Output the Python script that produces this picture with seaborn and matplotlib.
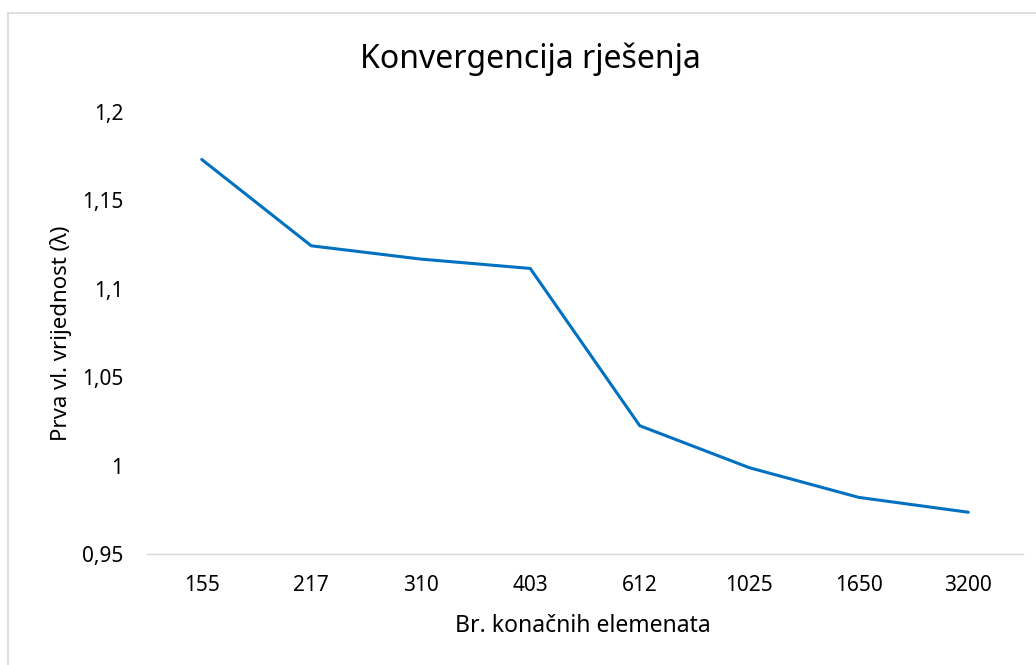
import matplotlib
matplotlib.use("Agg")
import matplotlib.pyplot as plt
from matplotlib.lines import Line2D
from matplotlib.ticker import FuncFormatter
import seaborn as sns
import pandas as pd

# Data
categories = ["155", "217", "310", "403", "612", "1025", "1650", "3200"]
values = [1.173, 1.1242, 1.1167, 1.1114, 1.0225, 0.9988, 0.982, 0.9736]
y_ticks = [0.95, 1.0, 1.05, 1.1, 1.15, 1.2]

title = "Konvergencija rješenja"
x_label = "Br. konačnih elemenata"
y_label = "Prva vl. vrijednost (λ)"

sns.set_theme(style="white")
plt.rcParams["font.family"] = ["Noto Sans", "DejaVu Sans"]

df = pd.DataFrame({"x": categories, "y": values})
df["pos"] = range(len(categories))

W, H = 1036, 665
fig = plt.figure(figsize=(W / 100, H / 100), dpi=100)
ax = fig.add_axes([147 / W, 1 - 554 / H, (1023 - 147) / W, (554 - 111.7) / H])

sns.lineplot(data=df, x="pos", y="y", ax=ax, color="#0070C0", linewidth=2.2)

ax.set_xlim(-0.5, len(categories) - 0.5)
ax.set_ylim(min(y_ticks), max(y_ticks))
ax.set_xticks(range(len(categories)))
ax.set_xticklabels(categories)
ax.set_yticks(y_ticks)
ax.yaxis.set_major_formatter(FuncFormatter(lambda v, p: f"{v:g}".replace(".", ",")))

for s in ["top", "right", "left"]:
    ax.spines[s].set_visible(False)
ax.spines["bottom"].set_color("#D9D9D9")
ax.spines["bottom"].set_linewidth(1.0)
ax.tick_params(axis="both", length=0, labelsize=15, colors="#000000")
ax.tick_params(axis="y", pad=17)
ax.tick_params(axis="x", pad=15)
ax.grid(False)
for l in ax.get_lines():
    l.set_clip_on(False)

ax.set_xlabel("")
ax.set_ylabel("")
fig.text(583 / W, 1 - 632 / H, x_label, ha="center", va="baseline", fontsize=16.5, color="#000000")
fig.text(61 / W, 1 - 333 / H, y_label, ha="center", va="center", rotation=90, fontsize=16, color="#000000")
fig.text(530 / W, 1 - 68 / H, title, ha="center", va="baseline", fontsize=23, color="#000000")

# chart border
fig.add_artist(Line2D([7.5 / W, 7.5 / W], [0, 1 - 12.5 / H], transform=fig.transFigure, color="#D9D9D9", lw=1.2))
fig.add_artist(Line2D([7.5 / W, 1], [1 - 12.5 / H, 1 - 12.5 / H], transform=fig.transFigure, color="#D9D9D9", lw=1.2))

fig.savefig("out.png", dpi=100, facecolor="white")
